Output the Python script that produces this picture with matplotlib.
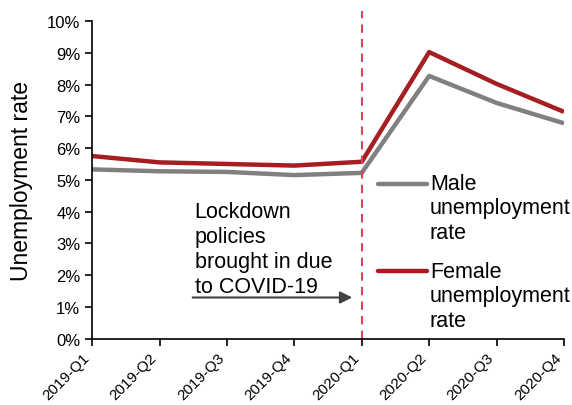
import matplotlib
matplotlib.use("Agg")
import matplotlib.pyplot as plt

quarters = ["2019-Q1", "2019-Q2", "2019-Q3", "2019-Q4",
            "2020-Q1", "2020-Q2", "2020-Q3", "2020-Q4"]
male_rate = [5.33, 5.27, 5.25, 5.15, 5.22, 8.27, 7.42, 6.78]
female_rate = [5.75, 5.55, 5.5, 5.45, 5.57, 9.02, 8.02, 7.14]
y_ticks = list(range(0, 11))
lockdown_quarter = "2020-Q1"
series_names = ["Male\nunemployment\nrate", "Female\nunemployment\nrate"]
series_colors = ["#808080", "#A51E22"]

plt.rcParams["font.family"] = ["Liberation Sans", "DejaVu Sans"]

fig = plt.figure(figsize=(5.72, 4.06), dpi=100)
ax = fig.add_axes([0.161, 0.163, 0.825, 0.783])

x = list(range(len(quarters)))
for vals, col in zip([male_rate, female_rate], series_colors):
    ax.plot(x, vals, color=col, lw=3.2, solid_capstyle="butt")

lx = quarters.index(lockdown_quarter)
ax.axvline(lx, ymin=0, ymax=1.03, color="#E0405A", lw=1.5, ls=(0, (4, 3)), clip_on=False)

ax.set_xlim(0, len(quarters) - 1)
ax.set_ylim(0, 10)
ax.set_yticks(y_ticks)
ax.set_yticklabels(["{}%".format(v) for v in y_ticks], fontsize=12)
ax.set_xticks(x)
ax.set_xticklabels(quarters, rotation=45, ha="right", va="top", fontsize=11)
ax.tick_params(direction="out", length=5, width=1.2, color="black")
ax.tick_params(axis="x", pad=3)
ax.set_ylabel("Unemployment rate", fontsize=16.5, labelpad=10)

for s in ["top", "right"]:
    ax.spines[s].set_visible(False)
for s in ["left", "bottom"]:
    ax.spines[s].set_linewidth(1.2)

ax.text(1.52, 4.33, "Lockdown\npolicies\nbrought in due\nto COVID-19", fontsize=15.5,
        va="top", ha="left", linespacing=1.25)
ax.annotate("", xy=(lx - 0.1, 1.3), xytext=(1.45, 1.3),
            arrowprops=dict(arrowstyle="-|>", color="#404040", lw=1.5, mutation_scale=18))

# legend drawn by hand so the line sits level with the first text line
for name, col, hy, ty in zip(series_names, series_colors, [0.487, 0.214], [0.522, 0.245]):
    ax.plot([0.606, 0.71], [hy, hy], color=col, lw=3.2, transform=ax.transAxes,
            clip_on=False, solid_capstyle="round")
    ax.text(0.716, ty, name, transform=ax.transAxes, fontsize=15.5, va="top",
            ha="left", linespacing=1.22)

fig.savefig("out.png", dpi=100)
